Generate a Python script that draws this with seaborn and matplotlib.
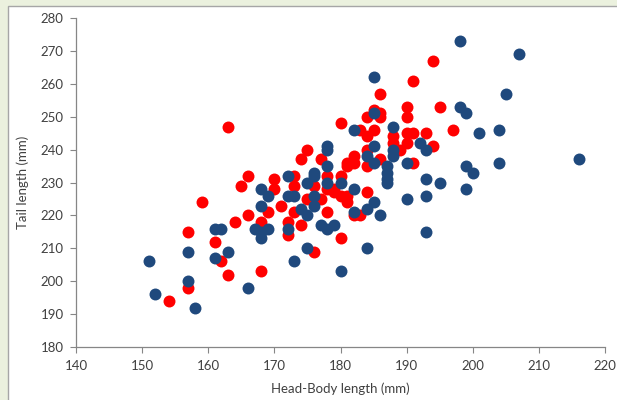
import matplotlib
matplotlib.use("Agg")
import matplotlib.pyplot as plt
import seaborn as sns
import pandas as pd
from matplotlib.patches import Rectangle

# ==========================================
# data
# ==========================================
red_x = [154, 157, 157, 159, 161, 162, 163, 163, 164, 165, 166, 166, 168, 168, 169,
         170, 170, 171, 172, 172, 173, 173, 173, 174, 174, 175, 175, 176, 176, 177,
         177, 178, 178, 178, 179, 179, 180, 180, 180, 180, 181, 181, 181, 181, 182,
         182, 182, 183, 183, 184, 184, 184, 184, 184, 185, 185, 186, 186, 186, 186,
         188, 188, 189, 190, 190, 190, 190, 191, 191, 191, 193, 194, 194, 195, 197]
red_y = [194, 198, 215, 224, 212, 206, 202, 247, 218, 229, 232, 220, 218, 203, 221,
         231, 228, 223, 218, 214, 232, 229, 221, 237, 217, 240, 225, 229, 209, 237,
         225, 232, 228, 221, 228, 227, 248, 232, 226, 213, 236, 235, 226, 224, 238,
         236, 220, 220, 246, 250, 244, 240, 235, 227, 252, 246, 257, 251, 250, 237,
         244, 242, 240, 253, 250, 245, 242, 245, 261, 236, 245, 267, 241, 253, 246]

blue_x = [151, 152, 158, 157, 157, 161, 162, 161, 163, 166, 167, 168, 169, 168, 168,
          168, 169, 172, 172, 173, 172, 173, 174, 175, 176, 175, 175, 176, 176, 176,
          177, 178, 179, 178, 178, 178, 178, 180, 180, 182, 182, 182, 184, 184, 184,
          185, 185, 185, 185, 185, 186, 187, 187, 187, 187, 188, 188, 188, 190, 190,
          192, 193, 193, 193, 193, 195, 198, 198, 199, 199, 199, 200, 201, 204, 204,
          205, 207, 216]
blue_y = [206, 196, 192, 209, 200, 216, 216, 207, 209, 198, 216, 215, 216, 213, 223,
          228, 226, 232, 226, 226, 216, 206, 222, 220, 223, 230, 210, 233, 232, 226,
          217, 216, 217, 241, 240, 235, 230, 230, 203, 246, 228, 221, 238, 222, 210,
          262, 251, 241, 236, 224, 220, 235, 233, 231, 230, 247, 240, 238, 236, 225,
          242, 240, 231, 226, 215, 230, 273, 253, 251, 235, 228, 233, 245, 246, 236,
          257, 269, 237]

x_ticks = [140, 150, 160, 170, 180, 190, 200, 210, 220]
y_ticks = [180, 190, 200, 210, 220, 230, 240, 250, 260, 270, 280]

red_df = pd.DataFrame({'hb': red_x, 'tail': red_y})
blue_df = pd.DataFrame({'hb': blue_x, 'tail': blue_y})

# ==========================================
# style
# ==========================================
sns.set_theme(style="white")
plt.rcParams['font.family'] = ['Lato', 'DejaVu Sans']
txt_col = '#404040'
axis_col = '#868686'

fig = plt.figure(figsize=(6.17, 4.0), dpi=100, facecolor='#EBF1DE')
# white chart area with grey frame (Excel style), behind the axes
fig.patches.append(Rectangle((8 / 617, -0.02), 1.0, 1 - 6 / 400 + 0.02,
                             transform=fig.transFigure, facecolor='white',
                             edgecolor='#A6A6A6', lw=1.0, zorder=-10))
ax = fig.add_axes([76 / 617, 53 / 400, 529 / 617, 329 / 400])
ax.set_facecolor('none')

sns.scatterplot(data=red_df, x='hb', y='tail', color='#FF0000', s=74,
                linewidth=0, ax=ax, zorder=3)
sns.scatterplot(data=blue_df, x='hb', y='tail', color='#1F497D', s=74,
                linewidth=0, ax=ax, zorder=4)

ax.set_xlim(140, 220)
ax.set_ylim(180, 280)
ax.set_xticks(x_ticks)
ax.set_yticks(y_ticks)
ax.tick_params(axis='both', direction='out', length=4, width=0.8,
               color=axis_col, labelcolor=txt_col, labelsize=9.5, pad=5,
               left=True, bottom=True)
for side in ['top', 'right']:
    ax.spines[side].set_visible(False)
for side in ['left', 'bottom']:
    ax.spines[side].set_color(axis_col)
    ax.spines[side].set_linewidth(0.9)

ax.set_xlabel('Head-Body length (mm)', fontsize=9.5, color=txt_col, labelpad=8)
ax.set_ylabel('Tail length (mm)', fontsize=9.5, color=txt_col, labelpad=8)

plt.savefig('out.png', dpi=100, facecolor=fig.get_facecolor())
